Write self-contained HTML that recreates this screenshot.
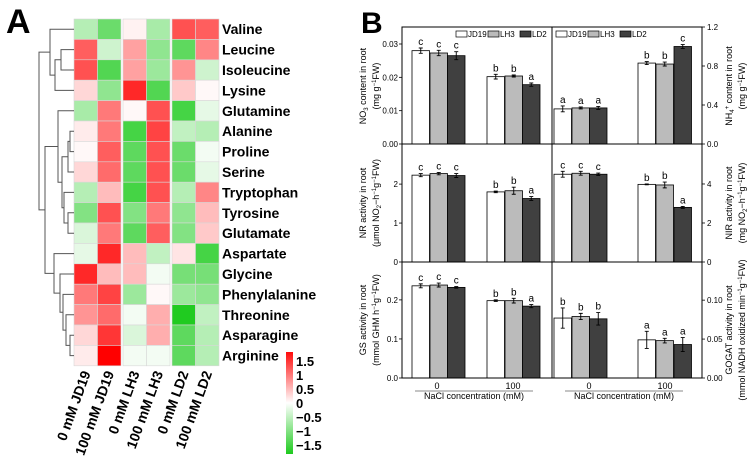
<!DOCTYPE html>
<html><head><meta charset="utf-8"><style>
body{margin:0;background:#fff}
svg{display:block;font-family:"Liberation Sans",sans-serif}
</style></head><body>
<svg id="fig" width="753" height="461" viewBox="0 0 753 461" xmlns="http://www.w3.org/2000/svg">
<text x="6" y="33" font-size="34" font-weight="bold">A</text>
<text x="361" y="33" font-size="30" font-weight="bold">B</text>
<g id="heat"></g>
<g id="dendro"></g>
<g id="cbar"></g>
<g id="bars"></g>
</svg>
<script>
const aminoAcids=["Valine","Leucine","Isoleucine","Lysine","Glutamine","Alanine","Proline","Serine","Tryptophan","Tyrosine","Glutamate","Aspartate","Glycine","Phenylalanine","Threonine","Asparagine","Arginine"];
const conditions=["0 mM JD19","100 mM JD19","0 mM LH3","100 mM LH3","0 mM LD2","100 mM LD2"];
const heatValues=[
[-0.6,-1.2,0.1,-0.7,1.3,1.2],
[1.2,-0.4,0.7,-0.9,-1.3,0.9],
[1.3,-1.4,0.7,-0.8,0.8,-0.4],
[0.3,-0.9,1.6,-1.4,0.4,0.05],
[-0.7,1.0,0.05,1.3,-1.5,-0.2],
[0.15,1.0,-1.5,1.4,-0.5,-0.6],
[0.05,1.2,-1.3,1.3,-1.2,-0.1],
[0.3,1.1,-1.3,1.3,-1.2,-0.2],
[-0.6,0.5,-1.5,1.3,-0.6,0.9],
[-1.0,1.3,-1.0,1.0,-0.9,0.5],
[-0.3,1.0,-1.3,1.2,-1.0,0.4],
[-0.2,1.6,0.5,-0.5,0.2,-1.5],
[1.6,0.5,0.5,-0.1,-1.1,-1.1],
[1.0,1.4,-0.8,0.05,-0.8,-0.9],
[0.8,1.1,-0.1,0.6,-1.8,-0.5],
[0.3,1.5,-0.3,0.6,-1.3,-0.6],
[0.15,1.9,-0.1,-0.1,-1.3,-0.6]];
const cbarTicks=[1.5,1,0.5,0,-0.5,-1,-1.5];
const cbarLabels=["1.5","1","0.5","0","\u22120.5","\u22121","\u22121.5"];

const groups=["0","100"];
const varieties=["JD19","LH3","LD2"];
const no3Values=[[0.028,0.0273,0.0265],[0.0202,0.0204,0.0178]];
const no3Err=[[0.0008,0.0008,0.0012],[0.0007,0.0003,0.0005]];
const no3Letters=[["c","c","c"],["b","b","a"]];
const nh4Values=[[0.36,0.37,0.37],[0.83,0.82,1.0]];
const nh4Err=[[0.03,0.01,0.015],[0.015,0.02,0.02]];
const nh4Letters=[["a","a","a"],["b","b","c"]];
const nrValues=[[2.23,2.27,2.22],[1.80,1.83,1.63]];
const nrErr=[[0.04,0.03,0.05],[0.02,0.09,0.05]];
const nrLetters=[["c","c","c"],["b","b","a"]];
const nirValues=[[4.5,4.55,4.5],[3.98,3.95,2.8]];
const nirErr=[[0.15,0.1,0.06],[0.02,0.15,0.05]];
const nirLetters=[["c","c","c"],["b","b","a"]];
const gsValues=[[0.236,0.238,0.232],[0.198,0.198,0.184]];
const gsErr=[[0.005,0.005,0.002],[0.002,0.006,0.004]];
const gsLetters=[["c","c","c"],["b","b","a"]];
const gogatValues=[[0.077,0.079,0.076],[0.049,0.048,0.043]];
const gogatErr=[[0.013,0.004,0.008],[0.011,0.003,0.009]];
const gogatLetters=[["b","b","b"],["a","a","a"]];
const no3Ticks=["0.00","0.01","0.02","0.03"];
const nh4Ticks=["0.0","0.4","0.8","1.2"];
const nrTicks=["0","1","2"];
const nirTicks=["0","2","4"];
const gsTicks=["0.0","0.1","0.2"];
const gogatTicks=["0.00","0.05","0.10"];

const NS="http://www.w3.org/2000/svg";
function mk(tag,attrs,parent,txt){const e=document.createElementNS(NS,tag);for(const k in attrs)e.setAttribute(k,attrs[k]);if(txt!==undefined)e.textContent=txt;parent.appendChild(e);return e;}

function color(v){const t=Math.min(Math.abs(v)/1.9,1);
 if(v>=0){return `rgb(255,${Math.round(255*(1-t))},${Math.round(255*(1-t))})`;}
 return `rgb(${Math.round(255-235*t)},${Math.round(255-55*t)},${Math.round(255-235*t)})`;}
const heat=document.getElementById('heat');
const colX=[74,97.5,123,146.5,172,195.5],cellW=23.5,rowTop=19,rowH=20.4;
const rowY=i=>rowTop+rowH*i;
heatValues.forEach((row,i)=>{row.forEach((v,j)=>{
 const r=mk('rect',{x:colX[j],y:rowY(i),width:cellW,height:rowH,fill:color(v),stroke:'#d8d8d8','stroke-width':0.6},heat);
 
 
});
 const t=mk('text',{x:222,y:rowY(i)+rowH/2+5,'font-size':14,'font-weight':'bold'},heat,aminoAcids[i]);
 
 
});
conditions.forEach((c,j)=>{
 const cx=colX[j]+cellW/2+5, cy=373;
 const t=mk('text',{x:cx,y:cy,'font-size':14,'font-weight':'bold','text-anchor':'end',transform:`rotate(-70 ${cx} ${cy})`},heat,c);
 
 
});
const dg=document.getElementById('dendro');
function leaf(i){return {y:rowY(i)+rowH/2,x:74};}
function join(a,b,x){const p=mk('path',{d:`M${a.x} ${a.y}H${x}V${b.y}H${b.x}`,fill:'none',stroke:'#555','stroke-width':1},dg);
 
 
 return {x:x,y:(a.y+b.y)/2};}
let t1=join(leaf(1),leaf(2),61); t1=join(t1,leaf(3),55); t1=join(leaf(0),t1,50);
let m1=join(leaf(5),leaf(6),70); m1=join(m1,leaf(7),68);
let m2=join(leaf(9),leaf(10),68); m2=join(leaf(8),m2,64);
let m=join(m1,m2,62); m=join(leaf(4),m,58);
let b1=join(leaf(15),leaf(16),70); b1=join(leaf(14),b1,66); b1=join(leaf(13),b1,63); b1=join(leaf(12),b1,60); b1=join(leaf(11),b1,54);
let mb=join(m,b1,45); join(t1,mb,39);
const cb=document.getElementById('cbar');
const defs=mk('defs',{},cb);const lg=mk('linearGradient',{id:'cg',x1:0,y1:0,x2:0,y2:1},defs);
[1.82,1,0.5,0,-0.5,-1,-1.82].forEach((v,k)=>{mk('stop',{offset:(1.82-v)/3.64,'stop-color':color(v)},lg);});
mk('rect',{x:286,y:352,width:7,height:102,fill:'url(#cg)'},cb);
const cbY=v=>403-28*v;
cbarTicks.forEach((v,k)=>{const t=mk('text',{x:296,y:cbY(v)+5,'font-size':13,'font-weight':'bold'},cb,cbarLabels[k]);
 
 });

const bg=document.getElementById('bars');
const L=402,M=552,R=702;
const fills=['#ffffff','#bbbbbb','#404040'];
const leftStarts=[[412,430,447.5],[487,505,522.5]];
const rightStarts=[[554,572,589.5],[638,656,674]];
const bw=17.5;
function panel(name,x0,x1,y0,y1,max,vals,errs,lets,starts){
 const g=mk('g',{},bg);
 const ys=v=>y1-(y1-y0)*v/max;
 vals.forEach((gv,gi)=>gv.forEach((v,k)=>{
  const x=starts[gi][k],y=ys(v);
  const r=mk('rect',{x:x,y:y,width:bw,height:y1-y,fill:fills[k],stroke:'#000','stroke-width':0.8},g);
  
  
  const e=errs[gi][k],cx=x+bw/2,ya=ys(v+e),yb=ys(v-e);
  mk('path',{d:`M${cx} ${ya}V${yb}M${cx-2} ${ya}H${cx+2}M${cx-2} ${yb}H${cx+2}`,stroke:'#000','stroke-width':0.9},g);
  const t=mk('text',{x:cx,y:ya-3,'font-size':10,'text-anchor':'middle'},g,lets[gi][k]);
  
  
 }));
 return ys;}
function ticks(ys,labels,step,x,side){
 labels.forEach((lab,k)=>{const y=ys(step*k);
  mk('line',{x1:x,x2:x+(side<0?-3:3),y1:y,y2:y,stroke:'#000','stroke-width':0.8},bg);
  const t=mk('text',{x:x+(side<0?-4:5),y:y+3,'font-size':8,'text-anchor':side<0?'end':'start'},bg,lab);
  
  });}
let ys;
ys=panel('no3-panel',L,M,27,144,0.0351,no3Values,no3Err,no3Letters,leftStarts);ticks(ys,no3Ticks,0.01,L,-1);
ys=panel('nh4-panel',M,R,27,144,1.2,nh4Values,nh4Err,nh4Letters,rightStarts);ticks(ys,nh4Ticks,0.4,R,1);
ys=panel('nr-panel',L,M,144,262,3.03,nrValues,nrErr,nrLetters,leftStarts);ticks(ys,nrTicks,1,L,-1);
ys=panel('nir-panel',M,R,144,262,6.05,nirValues,nirErr,nirLetters,rightStarts);ticks(ys,nirTicks,2,R,1);
ys=panel('gs-panel',L,M,262,378,0.297,gsValues,gsErr,gsLetters,leftStarts);ticks(ys,gsTicks,0.1,L,-1);
ys=panel('gogat-panel',M,R,262,378,0.149,gogatValues,gogatErr,gogatLetters,rightStarts);ticks(ys,gogatTicks,0.05,R,1);
mk('rect',{x:L,y:27,width:R-L,height:378-27,fill:'none',stroke:'#000','stroke-width':1},bg);
mk('path',{d:`M${L} 144H${R}M${L} 262H${R}M${M} 27V378`,stroke:'#000','stroke-width':1},bg);
function legend(x,y){varieties.forEach((v,k)=>{const xx=x+k*32;
 const r=mk('rect',{x:xx,y:y,width:11,height:6,fill:fills[k],stroke:'#000','stroke-width':0.7},bg);
 
 const t=mk('text',{x:xx+12,y:y+6,'font-size':8},bg,v);
 });}
legend(456,31);legend(556,31);
function xaxis(a,b,c1,c2){
 [[c1,groups[0]],[c2,groups[1]]].forEach(([cx,lab])=>{const t=mk('text',{x:cx,y:389,'font-size':9,'text-anchor':'middle'},bg,lab);
  });
 mk('line',{x1:a,x2:b,y1:391,y2:391,stroke:'#888','stroke-width':1},bg);
 const t=mk('text',{x:(a+b)/2,y:399,'font-size':9,'text-anchor':'middle'},bg,'NaCl concentration (mM)');
 }
xaxis(415,533,437,513);xaxis(565,683,589,665);
function vlab(x,y,l1,l2){[l1,l2].forEach((s,k)=>{const xx=x+k*13;
 const t=mk('text',{x:xx,y:y,'font-size':9,'text-anchor':'middle',transform:`rotate(-90 ${xx} ${y})`},bg);
 t.innerHTML=s;
 });}
vlab(366,86,'NO<tspan font-size="6" dy="2">3</tspan><tspan dy="-2"> content in root</tspan>','(mg  g<tspan font-size="6" dy="-3">−1</tspan><tspan dy="3">FW)</tspan>');
vlab(366,203,'NR activity in root','(μmol NO<tspan font-size="6" dy="2">2</tspan><tspan dy="-2">−h</tspan><tspan font-size="6" dy="-3">−1</tspan><tspan dy="3">g</tspan><tspan font-size="6" dy="-3">−1</tspan><tspan dy="3">FW)</tspan>');
vlab(366,320,'GS activity in root','(mmol GHM h<tspan font-size="6" dy="-3">−1</tspan><tspan dy="3">g</tspan><tspan font-size="6" dy="-3">−1</tspan><tspan dy="3">FW)</tspan>');
vlab(732,86,'NH<tspan font-size="6" dy="2">4</tspan><tspan font-size="6" dy="-5">+</tspan><tspan dy="3"> content in root</tspan>','(mg  g<tspan font-size="6" dy="-3">−1</tspan><tspan dy="3">FW)</tspan>');
vlab(732,203,'NIR activity in root','(mg NO<tspan font-size="6" dy="2">2</tspan><tspan dy="-2">−h</tspan><tspan font-size="6" dy="-3">−1</tspan><tspan dy="3">g</tspan><tspan font-size="6" dy="-3">−1</tspan><tspan dy="3">FW)</tspan>');
vlab(732,330,'GOGAT activity in root','(mmol NADH oxidized min<tspan font-size="6" dy="-3">−1</tspan><tspan dy="3">g</tspan><tspan font-size="6" dy="-3">−1</tspan><tspan dy="3">FW)</tspan>');
</script>
</body></html>
